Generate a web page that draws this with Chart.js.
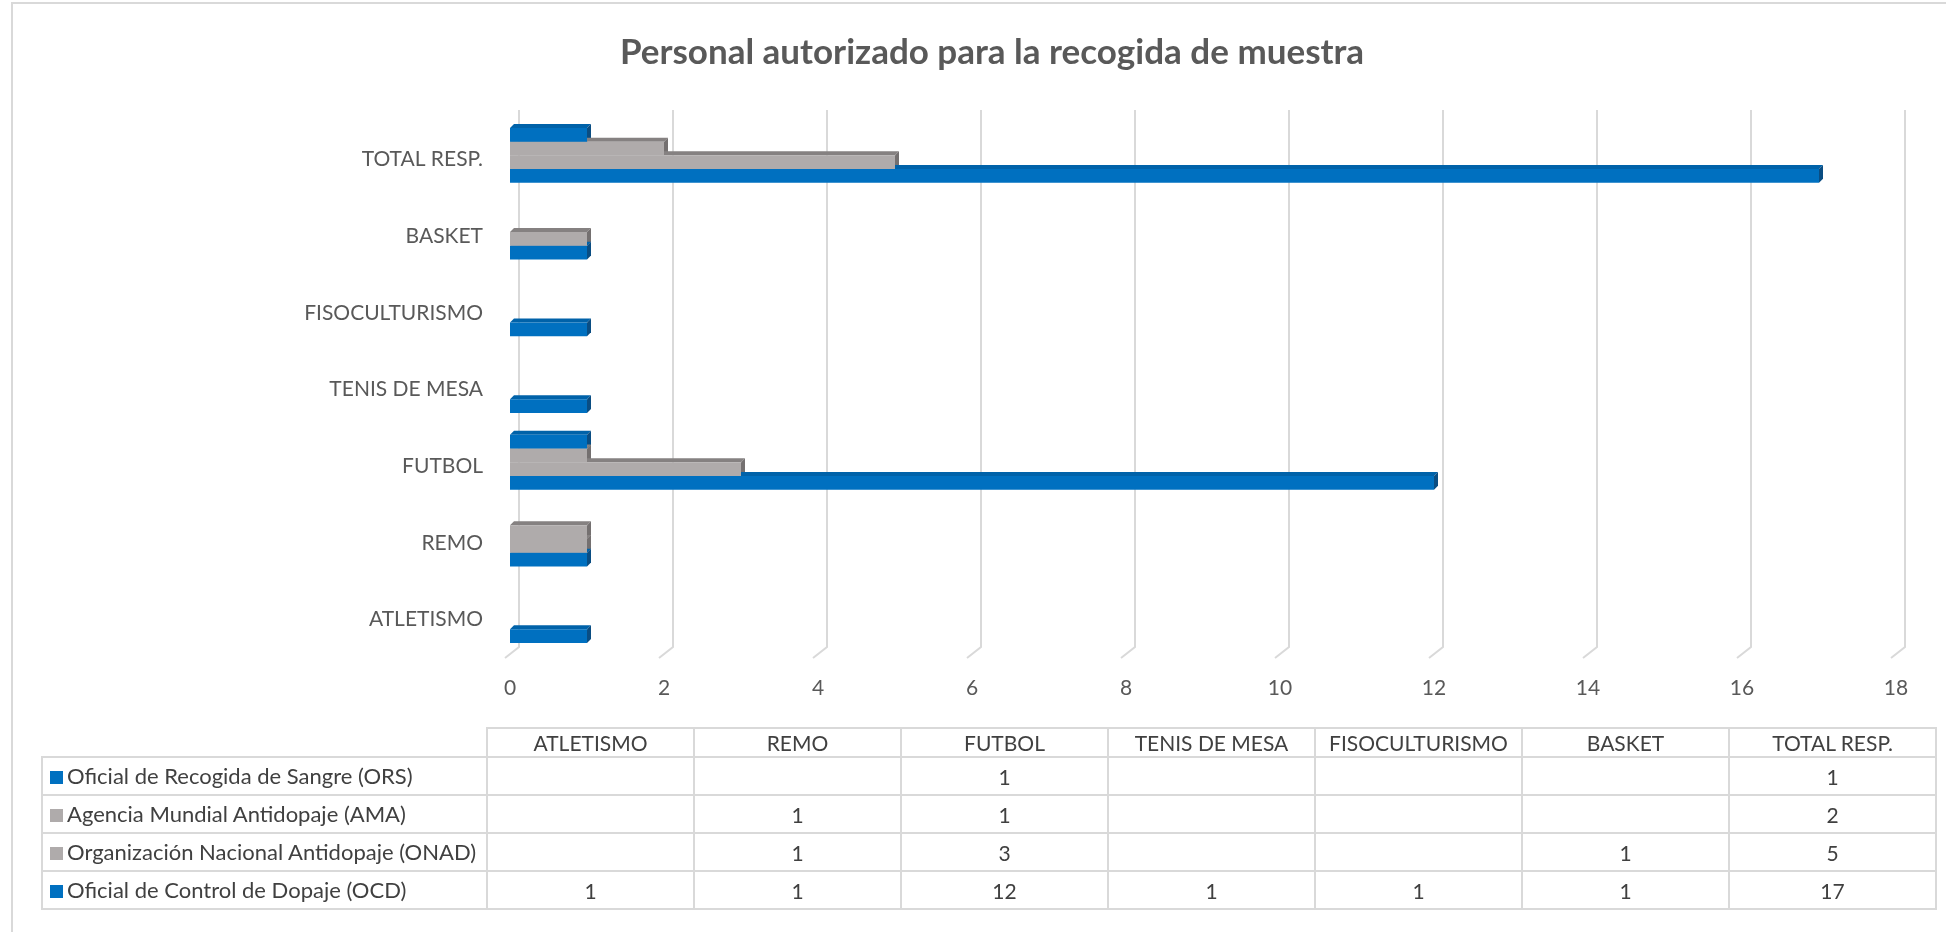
<!DOCTYPE html>
<html>
<head>
<meta charset="utf-8">
<title>Personal autorizado para la recogida de muestra</title>
<script src="https://cdn.jsdelivr.net/npm/chart.js@4.4.0/dist/chart.umd.min.js"></script>
<style>
    body { margin: 0; background: #fff; font-family: Lato, sans-serif; }
    #wrap { position: relative; width: 1946px; height: 932px; overflow: hidden; }
    #frame { position: absolute; left: 11px; top: 2px; width: 1980px; height: 980px; border: 2px solid #d9d9d9; box-sizing: border-box; }
    #chart { position: absolute; left: 0; top: 0; }
    #data-table { position: absolute; left: 41px; top: 727px; border-collapse: collapse; table-layout: fixed; font-size: 21px; color: #404040; }
    #data-table td, #data-table th { border: 2px solid #d9d9d9; padding: 0; font-weight: normal; text-align: center; white-space: nowrap; overflow: hidden; line-height: 1; }
    #data-table th { height: 27px; }
    #data-table td { height: 36px; }
    #data-table th.corner { border: none; }
    #data-table td.name { text-align: left; padding-left: 7px; font-size: 22px; }
    .key { display: inline-block; width: 13px; height: 13px; margin-right: 4px; vertical-align: 0px; }
</style>
</head>
<body>
<div id="wrap">
    <div id="frame"></div>
    <canvas id="chart" width="1946" height="932"></canvas>
    <table id="data-table"></table>
</div>
<script>
const categories = ['ATLETISMO', 'REMO', 'FUTBOL', 'TENIS DE MESA', 'FISOCULTURISMO', 'BASKET', 'TOTAL RESP.'];
const seriesNames = [
    'Oficial de Recogida de Sangre (ORS)',
    'Agencia Mundial Antidopaje (AMA)',
    'Organización Nacional Antidopaje (ONAD)',
    'Oficial de Control de Dopaje (OCD)'
];
const orsValues = [null, null, 1, null, null, null, 1];
const amaValues = [null, 1, 1, null, null, null, 2];
const onadValues = [null, 1, 3, null, null, 1, 5];
const ocdValues = [1, 1, 12, 1, 1, 1, 17];
const xMax = 18;
const xStep = 2;

const faceColors = ['#0070c0', '#afabab', '#afabab', '#0070c0'];
const topColors = ['#0062a9', '#858181', '#858181', '#0062a9'];
const sideColors = ['#0a4d82', '#747070', '#747070', '#0a4d82'];

Chart.defaults.font.family = 'Lato';

// extruded top/side faces and back-wall gridlines, drawn under the bar faces
const bar3d = {
    id: 'bar3d',
    beforeDatasetsDraw(chart) {
        const ctx = chart.ctx;
        const area = chart.chartArea;
        const xScale = chart.scales.x;
        const d = 4;
        ctx.save();
        ctx.strokeStyle = '#d9d9d9';
        ctx.lineWidth = 2;
        xScale.ticks.forEach(function (t) {
            let px = xScale.getPixelForValue(t.value) + 9;
            ctx.beginPath();
            ctx.moveTo(px, area.top - 7);
            ctx.lineTo(px, area.bottom - 7);
            ctx.lineTo(px - 14, area.bottom + 4);
            ctx.stroke();
        });
        chart.data.datasets.forEach(function (ds, i) {
            let meta = chart.getDatasetMeta(i);
            meta.data.forEach(function (bar, j) {
                if (ds.data[j] == null) return;
                let p = bar.getProps(['x', 'y', 'base', 'height'], true);
                let top = p.y - p.height / 2;
                let bottom = p.y + p.height / 2;
                ctx.fillStyle = topColors[i];
                ctx.beginPath();
                ctx.moveTo(p.base, top);
                ctx.lineTo(p.base + d, top - d);
                ctx.lineTo(p.x + d, top - d);
                ctx.lineTo(p.x, top);
                ctx.closePath();
                ctx.fill();
                ctx.fillStyle = sideColors[i];
                ctx.beginPath();
                ctx.moveTo(p.x, top);
                ctx.lineTo(p.x + d, top - d);
                ctx.lineTo(p.x + d, bottom - d);
                ctx.lineTo(p.x, bottom);
                ctx.closePath();
                ctx.fill();
            });
        });
        ctx.restore();
    },
    afterDraw(chart) {
        const ctx = chart.ctx;
        ctx.save();
        ctx.fillStyle = '#595959';
        ctx.font = 'bold 35px Lato';
        ctx.textAlign = 'center';
        ctx.textBaseline = 'alphabetic';
        ctx.fillText('Personal autorizado para la recogida de muestra', 992, 64);
        ctx.restore();
    }
};

const allSeries = [orsValues, amaValues, onadValues, ocdValues];

new Chart(document.getElementById('chart'), {
    type: 'bar',
    data: {
        labels: categories,
        datasets: allSeries.map(function (vals, i) {
            return {
                label: seriesNames[i],
                data: vals,
                backgroundColor: faceColors[i],
                borderWidth: 0,
                categoryPercentage: 0.716,
                barPercentage: 1
            };
        })
    },
    options: {
        indexAxis: 'y',
        responsive: false,
        animation: false,
        layout: { padding: { left: 0, top: 117, right: 50, bottom: 218 } },
        plugins: {
            legend: { display: false },
            title: { display: false },
            tooltip: { enabled: false }
        },
        scales: {
            x: {
                min: 0,
                max: xMax,
                ticks: { stepSize: xStep, color: '#595959', font: { size: 21 }, padding: 22 },
                grid: { display: false, drawTicks: false },
                border: { display: false },
                afterFit: function (scale) { scale.height = 60; }
            },
            y: {
                reverse: true,
                ticks: { color: '#595959', font: { size: 21 }, padding: 27, labelOffset: 4 },
                grid: { display: false, drawTicks: false },
                border: { display: false },
                afterFit: function (scale) { scale.width = 510; }
            }
        }
    },
    plugins: [bar3d]
});

// data table under the chart
function buildTable() {
    let table = document.getElementById('data-table');
    let html = '<colgroup><col style="width:445px">';
    categories.forEach(function () { html += '<col style="width:207px">'; });
    html += '</colgroup><tr><th class="corner"></th>';
    categories.forEach(function (c) { html += '<th>' + c + '</th>'; });
    html += '</tr>';
    allSeries.forEach(function (vals, i) {
        html += '<tr><td class="name"><span class="key" style="background:' + faceColors[i] + '"></span>' + seriesNames[i] + '</td>';
        vals.forEach(function (v) { html += '<td>' + (v == null ? '' : v) + '</td>'; });
        html += '</tr>';
    });
    table.innerHTML = html;
}
buildTable();
</script>
</body>
</html>
